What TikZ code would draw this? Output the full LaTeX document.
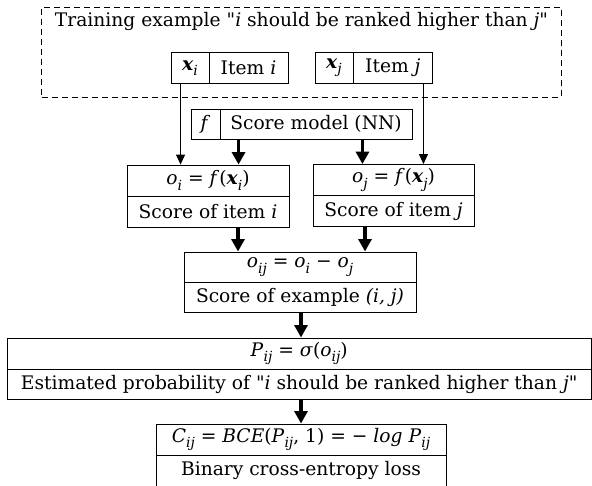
\documentclass[tikz,border=0pt]{standalone}
\usepackage{fontspec}
% family without TeX ligatures, so that " stays a straight quote
\newfontfamily\labelfont{DejaVu Serif}
\usetikzlibrary{arrows.meta}

% italic subscript and bold vector x
\newcommand{\lsub}[1]{\raisebox{-0.28em}{\fontsize{14}{14}\selectfont\itshape #1}}
\newcommand{\vx}{\textbf{\textit{x}}}

\tikzset{
  cell/.style={draw, line width=0.9pt, inner sep=0pt, anchor=center,
               font=\labelfont\fontsize{18.67}{22}\selectfont},
  thinarr/.style={line width=1pt, -{Triangle[length=10pt,width=9pt]}},
  thickarr/.style={line width=3.8pt, -{Triangle[length=12.5pt,width=13pt]}},
  group/.style={draw, dashed, line width=0.9pt, dash pattern=on 6pt off 4pt},
  txt/.style={inner sep=0pt, font=\labelfont\fontsize{18.67}{22}\selectfont}
}

\begin{document}
\begin{tikzpicture}[x=1pt,y=1pt]
\useasboundingbox (0,0) rectangle (592,485);

% training example group
\node[group, minimum width=519.5pt, minimum height=89.5pt, inner sep=0pt] (ex) at (301.35,432.75) {};
\node[txt] (extitle) at (301.5,464) {Training example "\textit{i} should be ranked higher than \textit{j}"};

% item i
\node[cell, minimum width=38pt, minimum height=30.6pt] (xiL) at (190,417) {\vx\lsub{i}};
\node[cell, minimum width=79pt, minimum height=30.6pt] (xiR) at (248.5,417) {Item \textit{i}};
% item j
\node[cell, minimum width=38pt, minimum height=30.6pt] (xjL) at (334,417) {\vx\lsub{j}};
\node[cell, minimum width=79.7pt, minimum height=30.6pt] (xjR) at (392.85,417) {Item \textit{j}};

% score model
\node[cell, minimum width=29pt, minimum height=30pt] (fL) at (205.5,361) {\textit{f}};
\node[cell, minimum width=192pt, minimum height=30pt] (fR) at (316,361) {Score model (NN)};

% score of item i
\node[cell, minimum width=162pt, minimum height=31pt] (oiT) at (208,304.5) {\textit{o}\lsub{i} = \textit{f}(\vx\lsub{i})};
\node[cell, minimum width=162pt, minimum height=31pt] (oiB) at (208,273.5) {Score of item \textit{i}};
% score of item j
\node[cell, minimum width=161pt, minimum height=31pt] (ojT) at (393.5,305) {\textit{o}\lsub{j} = \textit{f}(\vx\lsub{j})};
\node[cell, minimum width=161pt, minimum height=31pt] (ojB) at (393.5,274) {Score of item \textit{j}};

% score of example
\node[cell, minimum width=232pt, minimum height=30pt] (oijT) at (300,218) {\textit{o}\lsub{ij} = \textit{o}\lsub{i} − \textit{o}\lsub{j}};
\node[cell, minimum width=232pt, minimum height=30pt] (oijB) at (300,188) {Score of example \textit{(i, j)}};

% probability
\node[cell, minimum width=583.5pt, minimum height=31pt] (pT) at (299.2,131.5) {\textit{P}\lsub{ij} = \textit{σ}(\textit{o}\lsub{ij})};
\node[cell, minimum width=583.5pt, minimum height=30pt] (pB) at (299.2,101) {Estimated probability of "\textit{i} should be ranked higher than \textit{j}"};

% loss
\node[cell, minimum width=290pt, minimum height=31pt] (cT) at (301,45.5) {\textit{C}\lsub{ij} = \textit{BCE}(\textit{P}\lsub{ij}, 1) = − \textit{log P}\lsub{ij}};
\node[cell, minimum width=290pt, minimum height=31pt] (cB) at (301,14.5) {Binary cross-entropy loss};

% features into the score boxes
\draw[thinarr] ([xshift=10pt]xiL.south west) -- ([xshift=10pt]xiL.south west |- oiT.north);
\draw[thinarr] ([xshift=-9.7pt]xjR.south east) -- ([xshift=-9.7pt]xjR.south east |- ojT.north);
% score model into the score boxes
\draw[thickarr] ([xshift=19pt]fR.south west) -- ([xshift=19pt]fR.south west |- oiT.north);
\draw[thickarr] ([xshift=-50pt]fR.south east) -- ([xshift=-50pt]fR.south east |- ojT.north);
% scores into the difference
\draw[thickarr] ([xshift=30pt]oiB.south) -- ([xshift=30pt]oiB.south |- oijT.north);
\draw[thickarr] ([xshift=-28.5pt]ojB.south) -- ([xshift=-28.5pt]ojB.south |- oijT.north);
% difference into the probability, probability into the loss
\draw[thickarr] ([xshift=1pt]oijB.south) -- ([xshift=1pt]oijB.south |- pT.north);
\draw[thickarr] ([xshift=1pt]oijB.south |- pB.south) -- ([xshift=1pt]oijB.south |- cT.north);
\end{tikzpicture}
\end{document}
